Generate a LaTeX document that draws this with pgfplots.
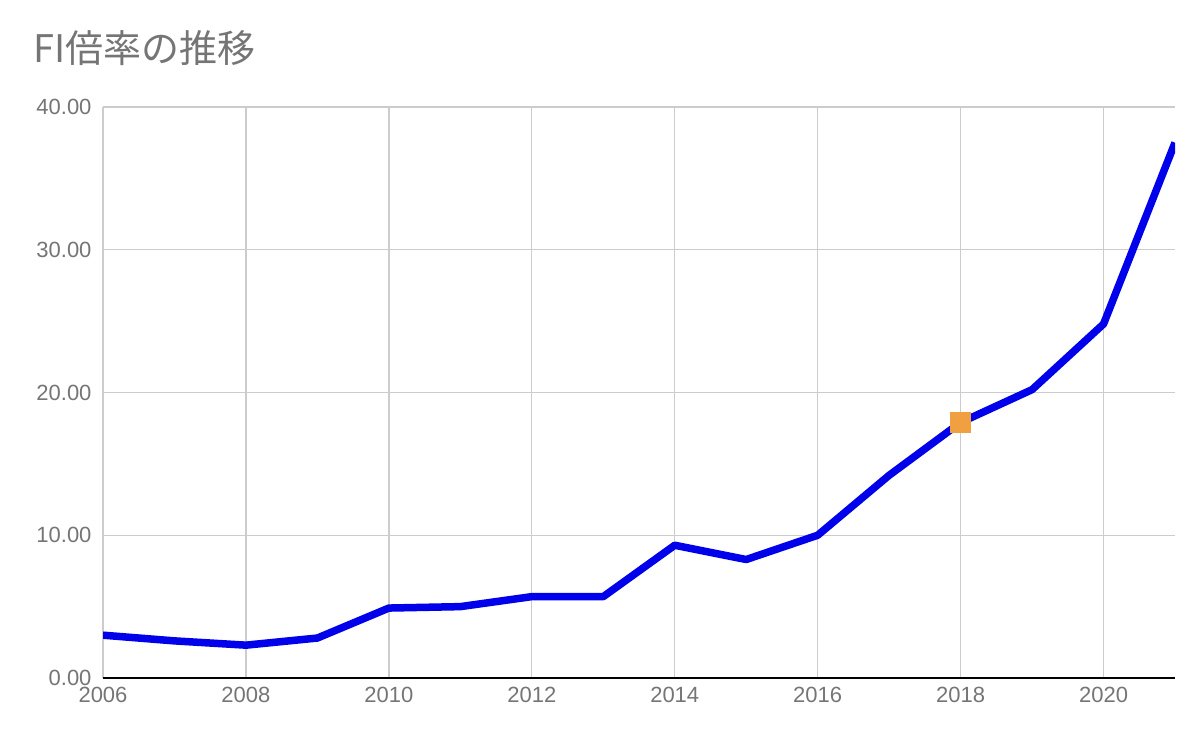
\documentclass[border=0pt]{standalone}
\usepackage{fontspec}
\setmainfont{Liberation Sans}
\newfontfamily\cjk{Noto Sans CJK JP}
\usepackage{pgfplots}
\pgfplotsset{compat=1.18}
\definecolor{txtgray}{RGB}{117,117,117}
\definecolor{gridgray}{RGB}{204,204,204}
\definecolor{lineblue}{RGB}{0,0,235}
\definecolor{sqorange}{RGB}{240,160,64}
\begin{document}
\begin{tikzpicture}
\path[use as bounding box] (0bp,0bp) rectangle (1200bp,744bp);
\node[anchor=west, inner sep=0pt, text=txtgray, font=\cjk\fontsize{38bp}{42bp}\selectfont] at (33bp,696bp) {FI倍率の推移};
\begin{axis}[
  at={(103bp,66bp)}, anchor=south west,
  scale only axis, width=1072bp, height=571bp,
  xmin=2006, xmax=2021, ymin=0, ymax=40,
  xtick={2006,2008,...,2020},
  ytick={0,10,20,30,40},
  axis x line=bottom, axis y line=left,
  x axis line style={-, black, line width=1.2bp},
  y axis line style={draw=none},
  major tick length=0pt,
  grid=major,
  major grid style={gridgray, line width=1.3bp},
  tick label style={text=txtgray, font=\fontsize{22bp}{25bp}\selectfont},
  /pgf/number format/assume math mode=true,
  x tick label style={/pgf/number format/set thousands separator={}, yshift=-6bp},
  y tick label style={/pgf/number format/fixed, /pgf/number format/fixed zerofill, /pgf/number format/precision=2, xshift=-8bp},
  clip=true,
]
\addplot[lineblue, line width=7.5bp, line join=round, mark=none] coordinates {
(2006,3.0) (2007,2.6) (2008,2.3) (2009,2.8) (2010,4.9) (2011,5.0)
(2012,5.7) (2013,5.7) (2014,9.3) (2015,8.3) (2016,10.0) (2017,14.2)
(2018,17.9) (2019,20.2) (2020,24.8) (2021,37.5)
};
\addplot[only marks, mark=square*, mark size=10bp, mark options={fill=sqorange, draw=sqorange}] coordinates {(2018,17.9)};
\end{axis}
\end{tikzpicture}
\end{document}
